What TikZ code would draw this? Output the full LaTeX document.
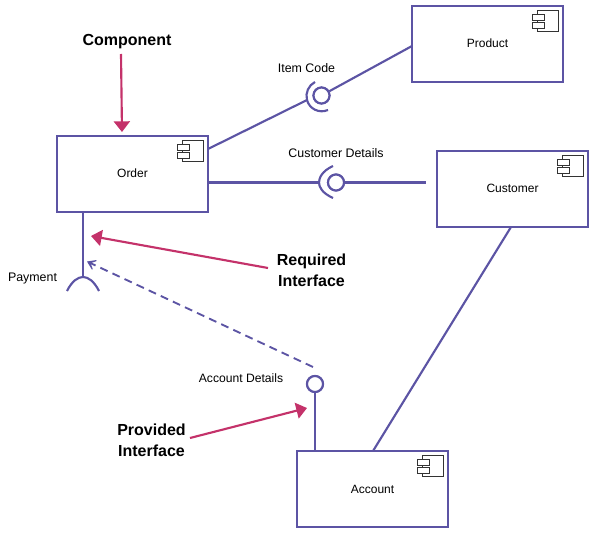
\documentclass[tikz,border=0pt]{standalone}
\usepackage{fontspec}
\setmainfont{Liberation Sans}
\usetikzlibrary{arrows.meta}
\definecolor{umlline}{HTML}{5C54A4}
\definecolor{notered}{HTML}{C4326A}
\definecolor{iconline}{HTML}{333333}
\newcommand{\compicon}[1]{%
  \draw[icon] ([shift={(-26,5)}]#1.north east) rectangle ([shift={(-5,26)}]#1.north east);
  \draw[icon,fill=white] ([shift={(-31.5,9.5)}]#1.north east) rectangle ([shift={(-19.5,15)}]#1.north east);
  \draw[icon,fill=white] ([shift={(-31.5,17.5)}]#1.north east) rectangle ([shift={(-19.5,23)}]#1.north east);
}
\tikzset{
  x=0.75pt,y=-0.75pt,
  comp/.style={draw=umlline,line width=1.6pt,minimum width=113pt,minimum height=56.5pt,inner sep=0pt,font=\fontsize{9}{11}\selectfont,text=black,fill=white},
  icon/.style={draw=iconline,line width=0.75pt},
  conn/.style={draw=umlline,line width=1.6pt},
  ball/.style={circle,draw=umlline,line width=1.6pt,minimum size=12pt,inner sep=0pt,fill=white},
  lab/.style={font=\fontsize{9.3}{11}\selectfont,text=black,inner sep=0pt},
  note/.style={font=\bfseries\fontsize{12}{15.5}\selectfont,text=black,inner sep=0pt,align=center},
  callout/.style={draw=notered,line width=1.6pt,-{Triangle[length=8pt,width=12pt,fill=notered]}},
  dep/.style={draw=umlline,line width=1.4pt,dash pattern=on 6pt off 4pt,-{Stealth[length=9pt,width=12pt,inset=6pt,fill=umlline]}},
}
\begin{document}
\begin{tikzpicture}
\useasboundingbox (0,0) rectangle (599,542);
% boxes
\node[comp] (order) at (132.5,174) {\raisebox{0.7pt}{Order}};
\node[comp] (product) at (487.5,44) {\raisebox{0.7pt}{Product}};
\node[comp] (customer) at (512.5,189) {\raisebox{0.3pt}{Customer}};
\node[comp] (account) at (372.5,489) {Account};
\compicon{order}
\compicon{product}
\compicon{customer}
\compicon{account}
% interface balls
\node[ball] (itemball) at (321.5,95.5) {};
\node[ball] (custball) at (336,182.5) {};
\node[ball] (acctball) at (315,384) {};
% socket anchors
\coordinate (itemsock) at (307,100);
\coordinate (custsock) at (319,182.5);
\coordinate (paysock) at (83,277);
\coordinate (custend) at (426,182.5);
\coordinate (orderitem) at (208,149);
\coordinate (orderpay) at (83,212);
\coordinate (ordercust) at (208,182.5);
\coordinate (productin) at (412,46);
\coordinate (custdown) at (511,227);
\coordinate (acctup) at (373,451);
\coordinate (acctball2) at (315,451);
% connectors
\draw[conn] (orderitem) -- (itemsock);
\draw[conn] (itemball) -- (productin);
\draw[conn] (ordercust) -- (custsock);
\draw[conn] (custball) -- (custend);
\draw[conn] (orderpay) -- (paysock);
\draw[conn] (custdown) -- (acctup);
\draw[conn] (acctball) -- (acctball2);
% sockets
\draw[conn] (315,82) .. controls (308.5,85.3) and (305.1,92.9) .. (307,100) .. controls (309.4,109.1) and (319.3,113.7) .. (328,110);
\draw[conn] (333,166) .. controls (322,171) and (319,178) .. (319,182.5) .. controls (319,187) and (322,193) .. (333,198);
\draw[conn] (67,291) .. controls (72,281) and (78,277) .. (83,277) .. controls (88,277) and (94,281) .. (99,291);
% redraw balls above lines
\node[ball] at (itemball) {};
\node[ball] at (custball) {};
\node[ball] at (acctball) {};
% dependency
\coordinate (depstart) at (313,367);
\coordinate (deptip) at (87,261.5);
\draw[dep] (depstart) -- (deptip);
% labels
\node[lab] (litem) at (306.5,68) {Item Code};
\node[lab] (lcust) at (336,153) {Customer Details};
\node[lab] (lpay) at (32.5,279) {Payment};
\node[lab,font=\fontsize{9.1}{11}\selectfont] (lacct) at (241,378) {Account Details};
% notes
\node[note] (ncomp) at (127,41.5) {Component};
\node[note] (nreq) at (311.5,270) {Required\\Interface};
\node[note] (nprov) at (151.5,440) {Provided\\Interface};
\coordinate (ncompend) at (122,132);
\coordinate (ncompstart) at (121,54);
\coordinate (nreqstart) at (268,268);
\coordinate (nreqend) at (91,236);
\coordinate (nprovstart) at (190,438);
\coordinate (nprovend) at (307,408);
\draw[callout] (ncompstart) -- (ncompend);
\draw[callout] (nreqstart) -- (nreqend);
\draw[callout] (nprovstart) -- (nprovend);
\end{tikzpicture}
\end{document}
